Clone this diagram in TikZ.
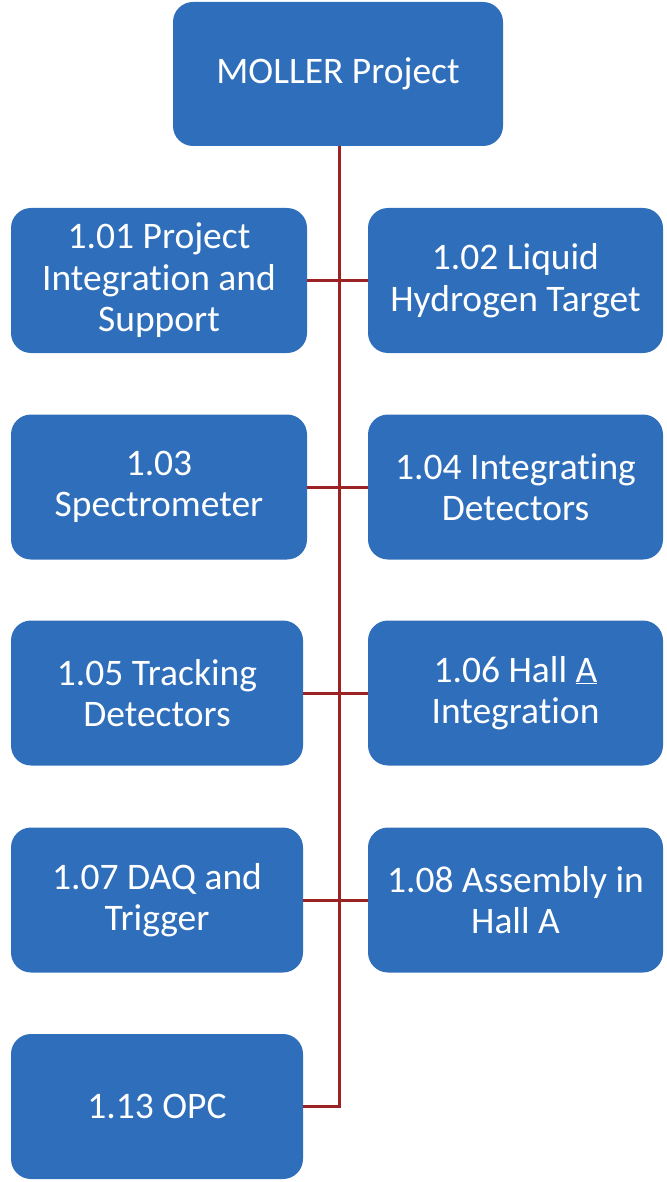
\documentclass[tikz,border=0pt]{standalone}
\usepackage{fontspec}
\setmainfont{Carlito}[Ligatures=NoCommon]
\definecolor{boxblue}{RGB}{47,110,186}
\definecolor{linered}{RGB}{155,35,35}
\tikzset{
  wbox/.style={rectangle, rounded corners=20pt, fill=boxblue, text=white,
    font=\fontsize{37.5}{41.5}\selectfont, align=center, inner sep=0pt,
    minimum height=145pt},
  conn/.style={draw=linered, line width=3pt}
}
\begin{document}
\begin{tikzpicture}[x=1pt,y=-1pt]
\useasboundingbox (0,0) rectangle (666,1182);
\node[wbox, minimum width=330pt, minimum height=144pt] (top) at (338,74) {MOLLER Project};
\node[wbox, minimum width=296pt] (l1) at (159,280.5) {1.01 Project\\Integration and\\Support};
\node[wbox, minimum width=295pt] (r1) at (515.5,280.5) {1.02 Liquid\\Hydrogen Target};
\node[wbox, minimum width=296pt] (l2) at (159,487) {1.03\\Spectrometer};
\node[wbox, minimum width=295pt] (r2) at (515.5,487) {1.04 Integrating\\Detectors};
\node[wbox, minimum width=292pt] (l3) at (157,693) {1.05 Tracking\\Detectors};
\node[wbox, minimum width=295pt] (r3) at (515.5,693) {1.06 Hall \underline{A}\\Integration};
\node[wbox, minimum width=292pt] (l4) at (157,900) {1.07 DAQ and\\Trigger};
\node[wbox, minimum width=295pt] (r4) at (515.5,900) {1.08 Assembly in\\Hall A};
\node[wbox, minimum width=292pt] (l5) at (157,1106.5) {1.13 OPC};
\coordinate (spine) at (339,146);
\draw[conn] (top.south -| spine) -- (spine |- l5.east) -- (l5.east);
\draw[conn] (l1.east) -- (r1.west);
\draw[conn] (l2.east) -- (r2.west);
\draw[conn] (l3.east) -- (r3.west);
\draw[conn] (l4.east) -- (r4.west);
\end{tikzpicture}
\end{document}
